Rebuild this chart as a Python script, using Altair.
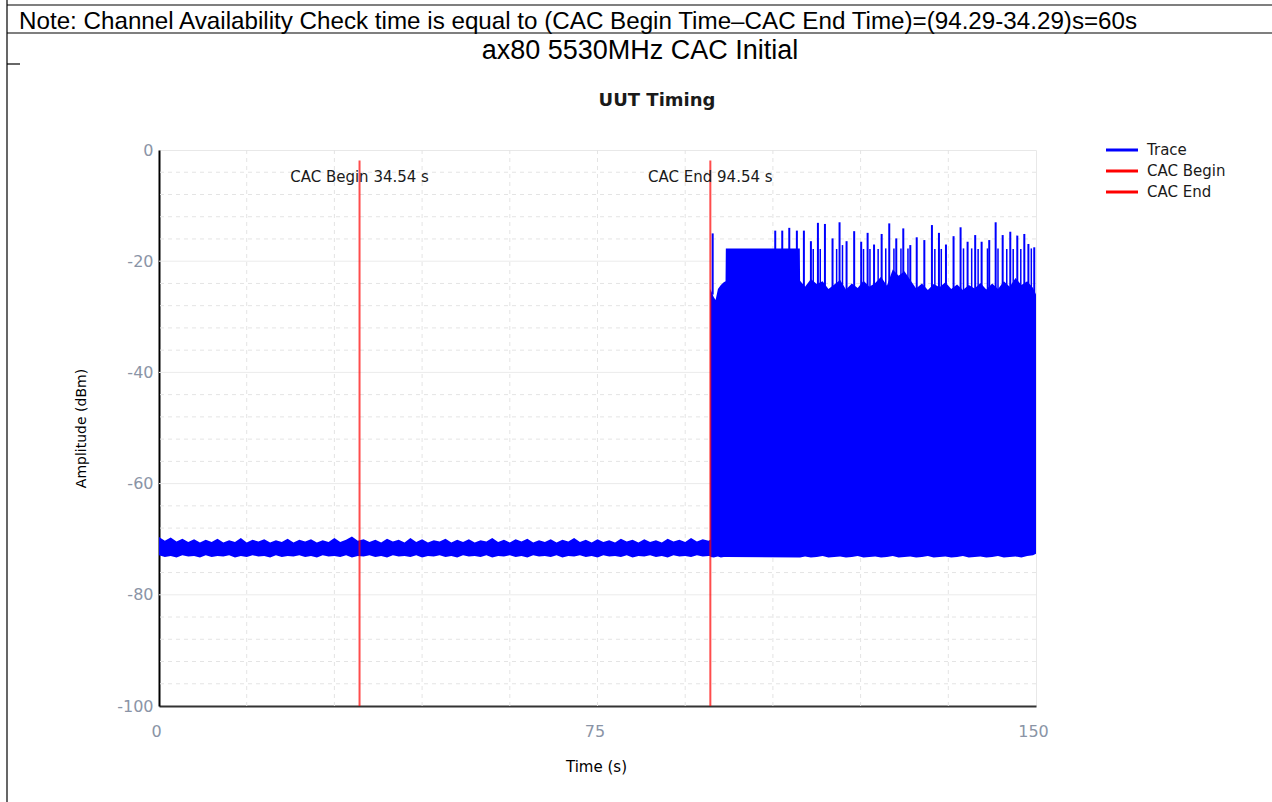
import altair as alt
import pandas as pd

# ---------------- data ----------------
# Noise floor before CAC end (time s, upper dBm, lower dBm)
low_t = [0, 1, 2, 3, 4, 5, 6, 7, 8, 9, 10, 11, 12, 13, 14, 15, 16, 17, 18, 19, 20, 21, 22, 23,
         24, 25, 26, 27, 28, 29, 30, 31, 32, 33, 34, 35, 36, 37, 38, 39, 40, 41, 42, 43, 44, 45,
         46, 47, 48, 49, 50, 51, 52, 53, 54, 55, 56, 57, 58, 59, 60, 61, 62, 63, 64, 65, 66, 67,
         68, 69, 70, 71, 72, 73, 74, 75, 76, 77, 78, 79, 80, 81, 82, 83, 84, 85, 86, 87, 88, 89,
         90, 91, 92, 93, 94, 94.29]
low_hi = [-69.6, -70.3, -69.7, -70.4, -69.9, -70.5, -70.0, -70.6, -70.1, -70.5, -69.9, -70.6,
          -70.2, -70.5, -69.8, -70.6, -70.1, -70.4, -70.0, -70.6, -70.2, -70.5, -69.9, -70.6,
          -70.1, -70.4, -70.0, -70.6, -70.2, -70.5, -69.8, -70.5, -70.1, -69.5, -70.3, -70.0,
          -70.5, -70.1, -70.6, -69.9, -70.4, -70.1, -70.6, -69.8, -70.5, -70.0, -70.6, -70.2,
          -70.4, -69.9, -70.6, -70.1, -70.5, -70.0, -70.6, -70.2, -70.4, -69.8, -70.5, -70.1,
          -70.6, -70.0, -70.4, -69.9, -70.6, -70.2, -70.5, -70.0, -70.6, -70.1, -70.4, -69.8,
          -70.5, -70.1, -70.6, -70.0, -70.5, -70.2, -70.6, -69.9, -70.4, -70.1, -70.6, -70.0,
          -70.5, -70.2, -70.6, -69.9, -70.4, -70.1, -70.5, -69.8, -70.4, -70.0, -70.3, -70.1]
low_lo = [-72.9, -73.2, -73.0, -73.3, -72.9, -73.1, -73.0, -73.3, -72.9, -73.2, -73.0, -73.1,
          -72.9, -73.3, -73.0, -73.2, -72.9, -73.1, -73.0, -73.3, -72.9, -73.2, -73.0, -73.1,
          -72.9, -73.2, -73.0, -73.3, -72.9, -73.1, -73.0, -73.2, -72.9, -73.3, -73.0, -73.1,
          -72.9, -73.2, -73.0, -73.3, -72.9, -73.1, -73.0, -73.2, -72.9, -73.3, -73.0, -73.1,
          -72.9, -73.2, -73.0, -73.3, -72.9, -73.1, -73.0, -73.2, -72.9, -73.3, -73.0, -73.1,
          -72.9, -73.2, -73.0, -73.3, -72.9, -73.1, -73.0, -73.2, -72.9, -73.3, -73.0, -73.1,
          -72.9, -73.2, -73.0, -73.3, -72.9, -73.1, -73.0, -73.2, -72.9, -73.3, -73.0, -73.1,
          -72.9, -73.2, -73.0, -73.3, -72.9, -73.1, -73.0, -73.2, -72.9, -73.1, -73.0, -73.0]

# Dense signal after CAC end (time s, upper dBm, lower dBm)
high_t = [94.3, 94.9, 95.2, 95.6, 96.1, 96.6, 96.9, 96.95, 109.6, 109.65, 110.5, 111.5, 112.5,
          113.5, 114.5, 115.5, 116.5, 117.5, 118.5, 119.5, 120.5, 121.5, 122.5, 123.5, 124.5,
          125.5, 126.5, 127.5, 128.5, 129.5, 130.5, 131.5, 132.5, 133.5, 134.5, 135.5, 136.5,
          137.5, 138.5, 139.5, 140.5, 141.5, 142.5, 143.5, 144.5, 145.5, 146.5, 147.5, 148.5,
          149.5, 150]
high_hi = [-25.0, -26.5, -27.0, -25.0, -24.3, -23.8, -23.6, -17.7, -17.7, -23.5, -24.6, -23.2,
           -24.1, -23.6, -25.0, -24.2, -23.4, -25.1, -24.0, -24.8, -23.5, -24.6, -23.9, -22.8,
           -24.4, -21.5, -22.6, -21.8, -23.4, -24.9, -24.0, -25.2, -24.1, -24.7, -23.8, -25.0,
           -24.2, -25.2, -24.3, -24.9, -23.9, -25.1, -24.0, -25.0, -23.6, -24.6, -23.0, -24.3,
           -23.6, -24.8, -26.0]
high_lo = [-73.2, -73.3, -73.2, -73.1, -73.3, -73.2, -73.2, -73.2, -73.3, -73.3, -73.1, -73.3,
           -73.2, -73.0, -73.3, -73.2, -73.1, -73.3, -73.2, -73.0, -73.3, -73.2, -73.1, -73.3,
           -73.2, -73.0, -73.3, -73.2, -73.1, -73.3, -73.2, -73.0, -73.3, -73.2, -73.1, -73.3,
           -73.2, -73.0, -73.3, -73.2, -73.1, -73.3, -73.2, -73.0, -73.3, -73.2, -73.1, -73.3,
           -73.0, -72.9, -72.6]

# Beacon spikes after CAC end (time s, peak dBm)
spike_t = [94.7, 105.4, 106.6, 107.8, 109.1, 110.3, 111.5, 112.7, 113.9, 115.2, 116.4, 117.6,
           118.9, 120.1, 121.2, 122.3, 123.6, 124.9, 126.1, 127.3, 128.5, 129.6, 130.9, 132.2,
           133.4, 134.6, 135.9, 137.1, 138.3, 139.6, 140.7, 142.0, 143.1, 144.3, 145.6, 146.8,
           148.0, 148.7, 149.7]
spike_peak = [-15.0, -14.5, -14.5, -14.0, -14.5, -14.5, -16.4, -13.1, -13.3, -15.9, -13.0, -16.4,
              -14.6, -16.5, -14.9, -17.0, -15.1, -13.2, -15.9, -14.1, -17.1, -15.7, -16.2, -13.5,
              -14.9, -17.0, -15.5, -13.9, -16.5, -15.3, -16.5, -16.2, -13.0, -15.3, -14.7, -15.4,
              -15.1, -16.9, -17.5]
minor_t = [111.9, 113.1, 115.9, 116.9, 120.5, 121.6, 123.0, 124.3, 125.7, 126.9, 128.1, 132.7,
           133.8, 137.6, 139.0, 140.1, 141.7, 143.5, 145.0, 146.1, 147.4, 149.2]
minor_peak = [-17.8, -17.8, -17.8, -17.1, -17.8, -17.8, -17.8, -17.7, -17.7, -17.7, -17.7, -17.8,
              -17.8, -17.7, -17.7, -17.8, -17.7, -17.7, -17.8, -17.8, -17.8, -17.7]

cac_t = [34.3, 94.3]
cac_labels = ["CAC Begin 34.54 s", "CAC End 94.54 s"]
legend_labels = ["Trace", "CAC Begin", "CAC End"]
legend_colors = ["#0000ff", "#ff0000", "#ff0000"]

note_text = ("Note: Channel Availability Check time is equal to "
             "(CAC Begin Time\u2013CAC End Time)=(94.29-34.29)s=60s")
doc_title = "ax80 5530MHz CAC Initial"
chart_title = "UUT Timing"

x_labels = [0, 75, 150]
y_labels = [-100, -80, -60, -40, -20, 0]
x_grid = [15, 30, 45, 60, 75, 90, 105, 120, 135]
y_grid_major = [-80, -60, -40, -20]
y_grid_minor = [-96, -92, -88, -84, -76, -72, -68, -64, -56, -52, -48, -44, -36, -32, -28,
                -24, -16, -12, -8, -4]

# ---------------- tables ----------------
trace_df = pd.DataFrame({"t": low_t + high_t, "v": low_hi + high_hi, "v2": low_lo + high_lo})
spike_df = pd.DataFrame({"t": spike_t, "v": spike_peak})
minor_df = pd.DataFrame({"t": minor_t, "v": minor_peak})
cac_df = pd.DataFrame({"t": cac_t, "label": cac_labels})
xgrid_df = pd.DataFrame({"t": x_grid})
ymaj_df = pd.DataFrame({"v": y_grid_major})
ymin_df = pd.DataFrame({"v": y_grid_minor})
one = pd.DataFrame({"k": [0]})

W, H = 877, 556
LEFT, TOP = 159, 150

xs = alt.Scale(domain=[0, 150], nice=False, zero=False)
ys = alt.Scale(domain=[-100, 0], nice=False, zero=False)

x_axis = alt.Axis(
    values=x_labels, labelExpr="'' + datum.value", grid=False,
    title="Time (s)", titleX=437, titleY=60, titleFont="DejaVu Sans", titleFontSize=15,
    titleFontWeight="normal", titleColor="black", titleBaseline="middle", titleAlign="center",
    labelFont="DejaVu Sans", labelFontSize=16, labelColor="#8a94a6", labelPadding=25,
    labelBaseline="middle", labelAlign="center", labelFlush=False, labelOverlap=False,
    labelOffset=-3, ticks=False, tickSize=0, domainColor="#333333", domainWidth=2,
)
y_axis = alt.Axis(
    values=y_labels, labelExpr="'' + datum.value", grid=False,
    title="Amplitude (dBm)", titleX=-78, titleY=278, titleAngle=270, titleFont="DejaVu Sans",
    titleFontSize=14, titleFontWeight="normal", titleColor="black", titleBaseline="middle",
    titleAlign="center",
    labelFont="DejaVu Sans", labelFontSize=16, labelColor="#8a94a6", labelPadding=6,
    labelAlign="right", labelBaseline="middle", labelFlush=False, labelOverlap=False,
    ticks=False, tickSize=0, domainColor="#000000", domainWidth=2,
)

X = alt.X("t:Q", scale=xs, axis=x_axis)
Y = alt.Y("v:Q", scale=ys, axis=y_axis)

# grid lines
xgrid = alt.Chart(xgrid_df).mark_rule(color="#e4e4e4", strokeWidth=1, strokeDash=[4, 4]).encode(x=X)
ymaj = alt.Chart(ymaj_df).mark_rule(color="#ebebeb", strokeWidth=1).encode(y=Y)
ymin = alt.Chart(ymin_df).mark_rule(color="#e4e4e4", strokeWidth=1, strokeDash=[4, 4]).encode(y=Y)

trace = alt.Chart(trace_df).mark_area(color="#0000ff", opacity=1, interpolate="linear").encode(
    x=X, y=Y, y2="v2:Q")

spikes = alt.Chart(spike_df).mark_rule(color="#0000ff", strokeWidth=2).encode(
    x=X, y=Y, y2=alt.datum(-26))
minors = alt.Chart(minor_df).mark_rule(color="#0000ff", strokeWidth=1.5).encode(
    x=X, y=Y, y2=alt.datum(-26))

cac_lines = alt.Chart(cac_df).mark_rule(color="#ff0000", strokeWidth=2, opacity=0.7).encode(
    x=X, y=alt.datum(-1.9), y2=alt.datum(-100))
cac_text = alt.Chart(cac_df).mark_text(
    font="DejaVu Sans", fontSize=15, color="#1a1a1a", align="center", baseline="middle"
).encode(x=X, y=alt.datum(-4.9), text="label:N")

layers = [xgrid, ymaj, ymin, trace, spikes, minors, cac_lines, cac_text]

# legend (drawn by hand at the right of the plot)
for i, (lab, col) in enumerate(zip(legend_labels, legend_colors)):
    yy = i * 21
    layers.append(alt.Chart(one).mark_rule(color=col, strokeWidth=3).encode(
        x=alt.value(947), x2=alt.value(979), y=alt.value(yy)))
    layers.append(alt.Chart(one).mark_text(
        text=lab, font="DejaVu Sans", fontSize=15, color="#1a1a1a", align="left",
        baseline="middle").encode(x=alt.value(988), y=alt.value(yy)))

# chart title
layers.append(alt.Chart(one).mark_text(
    text=chart_title, font="DejaVu Sans", fontSize=18, fontWeight="bold", color="#1a1a1a",
    align="center", baseline="middle").encode(x=alt.value(498), y=alt.value(-49)))

# document frame, note and heading
layers.append(alt.Chart(one).mark_rule(color="black", strokeWidth=1.2).encode(
    x=alt.value(7 - LEFT), y=alt.value(-TOP), y2=alt.value(802 - TOP)))
for yy in [5, 33]:
    layers.append(alt.Chart(one).mark_rule(color="black", strokeWidth=1.2).encode(
        x=alt.value(7 - LEFT), x2=alt.value(1272 - LEFT), y=alt.value(yy - TOP)))
layers.append(alt.Chart(one).mark_rule(color="black", strokeWidth=1.2).encode(
    x=alt.value(7 - LEFT), x2=alt.value(20 - LEFT), y=alt.value(64 - TOP)))
layers.append(alt.Chart(one).mark_text(
    text=note_text, font="Liberation Sans", fontSize=24.2, color="black", align="left",
    baseline="alphabetic").encode(x=alt.value(19 - LEFT), y=alt.value(29 - TOP)))
layers.append(alt.Chart(one).mark_text(
    text=doc_title, font="Liberation Sans", fontSize=27, color="black", align="center",
    baseline="alphabetic").encode(x=alt.value(640 - LEFT), y=alt.value(59 - TOP)))

chart = alt.layer(*layers).properties(
    width=W, height=H,
    autosize=alt.AutoSizeParams(type="none"),
    padding={"left": LEFT, "top": TOP, "right": 1272 - LEFT - W, "bottom": 802 - TOP - H},
    background="white",
).configure_view(stroke="#e8e8e8", strokeWidth=1).configure_axis(labelOverlap=False)

chart.save("out.html", embed_options={"renderer": "svg", "actions": False})
